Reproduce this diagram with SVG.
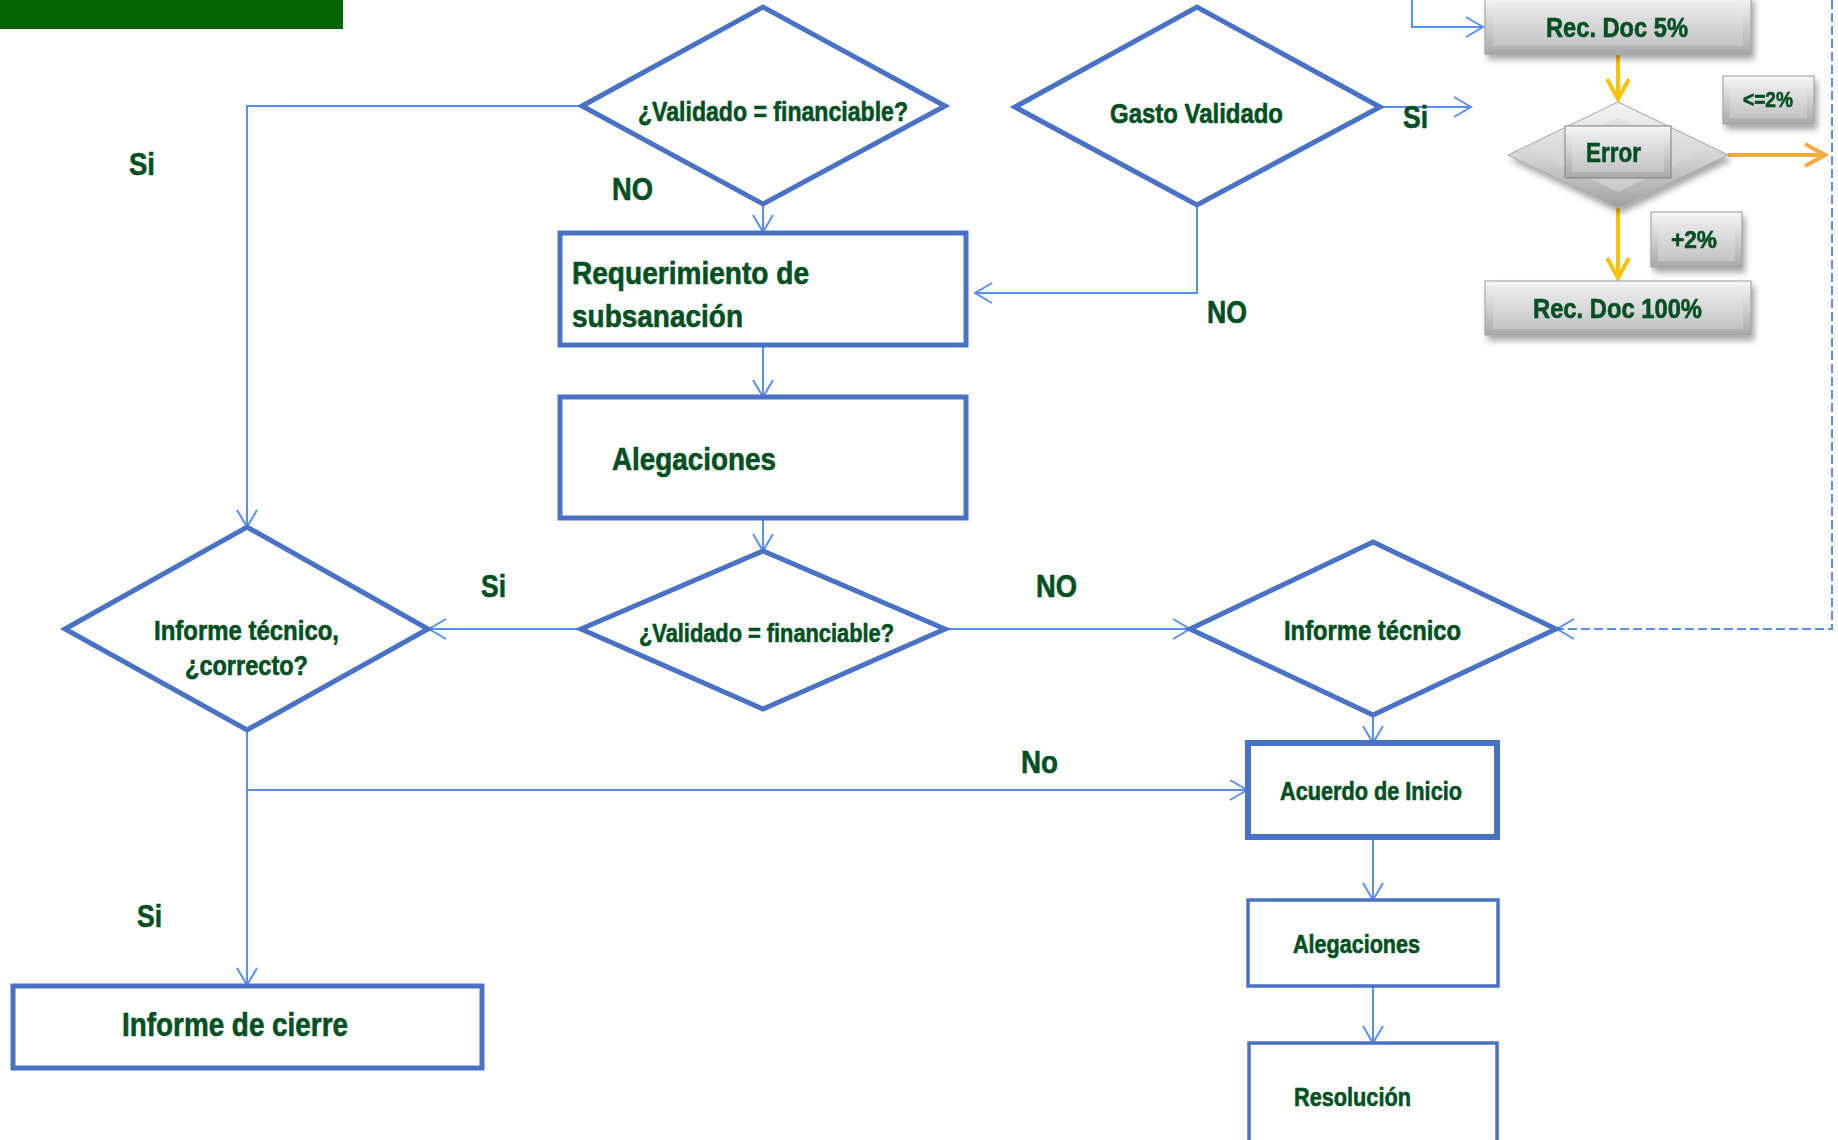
<svg xmlns="http://www.w3.org/2000/svg" width="1838" height="1140" viewBox="0 0 1838 1140">
<defs>
<style>
.t{font-family:"Liberation Sans Narrow","Liberation Sans",Arial,sans-serif;font-weight:bold;fill:#004F23;stroke:#004F23;stroke-width:0.6}
.dia{fill:#fff;stroke:#4A72C4;stroke-width:5;stroke-linejoin:miter}
.box{fill:#fff;stroke:#4A72C4;stroke-width:5}
.box2{fill:#fff;stroke:#4A72C4;stroke-width:3.5}
.c{fill:none;stroke:#5C8DF0;stroke-width:2}
.o1{fill:none;stroke:#FFC000;stroke-width:4}
.o2{fill:none;stroke:#F5AA40;stroke-width:4}
</style>
<marker id="arr" viewBox="-1 -11 20 22" refX="17" refY="0" markerWidth="20" markerHeight="22" markerUnits="userSpaceOnUse" orient="auto"><path d="M0,-10 L17,0 L0,10" fill="none" stroke="#5C8DF0" stroke-width="2"/></marker>
<marker id="arrY" viewBox="-2 -14 25 28" refX="20" refY="0" markerWidth="25" markerHeight="28" markerUnits="userSpaceOnUse" orient="auto"><path d="M0,-11 L20,0 L0,11" fill="none" stroke="#FFC000" stroke-width="4"/></marker>
<marker id="arrO" viewBox="-2 -14 25 28" refX="20" refY="0" markerWidth="25" markerHeight="28" markerUnits="userSpaceOnUse" orient="auto"><path d="M0,-11 L20,0 L0,11" fill="none" stroke="#F5AA40" stroke-width="4"/></marker>
<linearGradient id="gOut" x1="0" y1="0" x2="0" y2="1"><stop offset="0" stop-color="#f7f7f7"/><stop offset="1" stop-color="#a9a9a9"/></linearGradient>
<linearGradient id="gIn" x1="0" y1="0" x2="0" y2="1"><stop offset="0" stop-color="#ececec"/><stop offset="1" stop-color="#c4c4c4"/></linearGradient>
<linearGradient id="gDia" x1="0" y1="0" x2="0" y2="1"><stop offset="0" stop-color="#f4f4f4"/><stop offset="0.5" stop-color="#d6d6d6"/><stop offset="1" stop-color="#a0a0a0"/></linearGradient>
<filter id="sh" x="-10%" y="-10%" width="125%" height="140%"><feDropShadow dx="3" dy="5" stdDeviation="3" flood-color="#000" flood-opacity="0.35"/></filter>
</defs>

<rect id="banner" x="0" y="0" width="343" height="29" fill="#006400"/>

<g id="connectors">
<path class="c" d="M582,106 H247 V527" marker-end="url(#arr)"/>
<path class="c" d="M763,158 V232" marker-end="url(#arr)"/>
<path class="c" d="M1197,205 V293 H975" marker-end="url(#arr)"/>
<path class="c" d="M1380,107 H1471" marker-end="url(#arr)"/>
<path class="c" d="M1412,0 V27 H1483" marker-end="url(#arr)"/>
<path class="c" d="M763,345 V397" marker-end="url(#arr)"/>
<path class="c" d="M763,518 V551" marker-end="url(#arr)"/>
<path class="c" d="M581,629 H429" marker-end="url(#arr)"/>
<path class="c" d="M945,629 H1190" marker-end="url(#arr)"/>
<path class="c" d="M1832,0 V629 H1557" stroke-dasharray="9,4" marker-end="url(#arr)"/>
<path class="c" d="M1373,715 V743" marker-end="url(#arr)"/>
<path class="c" d="M247,730 V985" marker-end="url(#arr)"/>
<path class="c" d="M247,790 H1247" marker-end="url(#arr)"/>
<path class="c" d="M1373,837 V900" marker-end="url(#arr)"/>
<path class="c" d="M1373,986 V1043" marker-end="url(#arr)"/>
<path class="o1" d="M1618,55 V99" marker-end="url(#arrY)"/>
<path class="o2" d="M1728,155 H1825" marker-end="url(#arrO)"/>
<path class="o1" d="M1618,208 V278" marker-end="url(#arrY)"/>
</g>

<g id="labels">
<text class="t" x="129" y="175" font-size="32" textLength="26" lengthAdjust="spacingAndGlyphs">Si</text>
<text class="t" x="612" y="200" font-size="31" textLength="41" lengthAdjust="spacingAndGlyphs">NO</text>
<text class="t" x="1403" y="128" font-size="32" textLength="25" lengthAdjust="spacingAndGlyphs">Si</text>
<text class="t" x="1207" y="323" font-size="31" textLength="40" lengthAdjust="spacingAndGlyphs">NO</text>
<text class="t" x="481" y="597" font-size="32" textLength="25" lengthAdjust="spacingAndGlyphs">Si</text>
<text class="t" x="1036" y="597" font-size="31" textLength="41" lengthAdjust="spacingAndGlyphs">NO</text>
<text class="t" x="1021" y="773" font-size="31" textLength="37" lengthAdjust="spacingAndGlyphs">No</text>
<text class="t" x="137" y="927" font-size="32" textLength="25" lengthAdjust="spacingAndGlyphs">Si</text>
</g>

<g id="validado1">
<polygon class="dia" points="582,106 763,7 945,106 763,204"/>
<text class="t" x="638" y="121" font-size="28" textLength="270" lengthAdjust="spacingAndGlyphs">¿Validado = financiable?</text>
</g>

<g id="gasto">
<polygon class="dia" points="1015,107 1197,7 1380,107 1197,205"/>
<text class="t" x="1110" y="123" font-size="28" textLength="173" lengthAdjust="spacingAndGlyphs">Gasto Validado</text>
</g>

<g id="requerimiento">
<rect class="box" x="560" y="233" width="406" height="112"/>
<text class="t" x="572" y="284" font-size="31" textLength="237" lengthAdjust="spacingAndGlyphs">Requerimiento de</text>
<text class="t" x="572" y="327" font-size="31" textLength="171" lengthAdjust="spacingAndGlyphs">subsanación</text>
</g>

<g id="alegaciones1">
<rect class="box" x="560" y="397" width="406" height="121"/>
<text class="t" x="612" y="470" font-size="31" textLength="164" lengthAdjust="spacingAndGlyphs">Alegaciones</text>
</g>

<g id="validado2">
<polygon class="dia" points="581,629 763,551 945,629 763,709"/>
<text class="t" x="639" y="642" font-size="26" textLength="255" lengthAdjust="spacingAndGlyphs">¿Validado = financiable?</text>
</g>

<g id="informeCorrecto">
<polygon class="dia" points="65,629 247,527 428,629 247,730"/>
<text class="t" x="154" y="640" font-size="27" textLength="185" lengthAdjust="spacingAndGlyphs">Informe técnico,</text>
<text class="t" x="185" y="675" font-size="27" textLength="123" lengthAdjust="spacingAndGlyphs">¿correcto?</text>
</g>

<g id="informeTecnico">
<polygon class="dia" points="1190,629 1373,542 1556,629 1373,715"/>
<text class="t" x="1284" y="640" font-size="28" textLength="177" lengthAdjust="spacingAndGlyphs">Informe técnico</text>
</g>

<g id="acuerdo">
<rect x="1248" y="743" width="249" height="94" fill="#fff" stroke="#4A72C4" stroke-width="6"/>
<text class="t" x="1280" y="800" font-size="25" textLength="182" lengthAdjust="spacingAndGlyphs">Acuerdo de Inicio</text>
</g>

<g id="alegaciones2">
<rect class="box2" x="1248" y="900" width="250" height="86"/>
<text class="t" x="1293" y="953" font-size="25" textLength="127" lengthAdjust="spacingAndGlyphs">Alegaciones</text>
</g>

<g id="resolucion">
<rect class="box2" x="1249" y="1043" width="248" height="110"/>
<text class="t" x="1294" y="1106" font-size="25" textLength="117" lengthAdjust="spacingAndGlyphs">Resolución</text>
</g>

<g id="cierre">
<rect class="box" x="13" y="986" width="469" height="82"/>
<text class="t" x="122" y="1036" font-size="33" textLength="226" lengthAdjust="spacingAndGlyphs">Informe de cierre</text>
</g>

<g id="recDoc5" filter="url(#sh)">
<rect x="1485" y="-4" width="266" height="58" fill="url(#gOut)" stroke="#9a9a9a" stroke-width="1"/>
<rect x="1493" y="2" width="250" height="44" fill="url(#gIn)"/>
<text class="t" x="1546" y="37" font-size="27" textLength="142" lengthAdjust="spacingAndGlyphs">Rec. Doc 5%</text>
</g>

<g id="error" filter="url(#sh)">
<polygon points="1508,155 1618,102 1728,155 1618,208" fill="url(#gDia)" stroke="#a5a5a5" stroke-width="1"/>
<polygon points="1540,155 1618,118 1696,155 1618,192" fill="#d9d9d9" opacity="0.6"/>
<rect x="1565" y="126" width="106" height="52" fill="url(#gOut)" stroke="#7f7f7f" stroke-width="1"/>
<rect x="1572" y="132" width="92" height="40" fill="url(#gIn)"/>
<text class="t" x="1586" y="162" font-size="27" textLength="55" lengthAdjust="spacingAndGlyphs">Error</text>
</g>

<g id="le2" filter="url(#sh)">
<rect x="1723" y="76" width="91" height="48" fill="url(#gOut)" stroke="#9a9a9a" stroke-width="1"/>
<rect x="1730" y="82" width="77" height="36" fill="url(#gIn)"/>
<text class="t" x="1743" y="107" font-size="22" textLength="50" lengthAdjust="spacingAndGlyphs">&lt;=2%</text>
</g>

<g id="mas2" filter="url(#sh)">
<rect x="1651" y="212" width="91" height="55" fill="url(#gOut)" stroke="#9a9a9a" stroke-width="1"/>
<rect x="1658" y="218" width="77" height="43" fill="url(#gIn)"/>
<text class="t" x="1671" y="248" font-size="24" textLength="46" lengthAdjust="spacingAndGlyphs">+2%</text>
</g>

<g id="recDoc100" filter="url(#sh)">
<rect x="1485" y="281" width="266" height="54" fill="url(#gOut)" stroke="#9a9a9a" stroke-width="1"/>
<rect x="1493" y="287" width="250" height="42" fill="url(#gIn)"/>
<text class="t" x="1533" y="318" font-size="27" textLength="169" lengthAdjust="spacingAndGlyphs">Rec. Doc 100%</text>
</g>
</svg>
